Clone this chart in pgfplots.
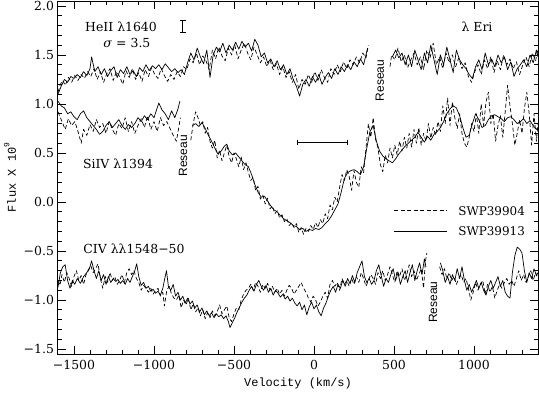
\documentclass[border=0pt]{standalone}
\usepackage{pgfplots}
\pgfplotsset{compat=1.18}
\usepackage{fontspec}
\setmainfont{DejaVu Serif}
\newfontfamily\monofont{Liberation Mono}
\newfontfamily\sansfont{Liberation Sans}
\begin{document}
\begin{tikzpicture}
\begin{axis}[
  scale only axis, width=480bp, height=353bp,
  xmin=-1600, xmax=1400, ymin=-1.55, ymax=2.05,
  xtick={-1500,-1000,-500,0,500,1000},
  xticklabels={−1500,−1000,−500,0,500,1000},
  minor xtick={-1400,-1300,-1200,-1100,-900,-800,-700,-600,-400,-300,-200,-100,100,200,300,400,600,700,800,900,1100,1200,1300},
  ytick={-1.5,-1,-0.5,0,0.5,1,1.5,2},
  yticklabels={−1.5,−1.0,−0.5,0.0,0.5,1.0,1.5,2.0},
  minor ytick={-1.4,-1.3,-1.2,-1.1,-0.9,-0.8,-0.7,-0.6,-0.4,-0.3,-0.2,-0.1,0.1,0.2,0.3,0.4,0.6,0.7,0.8,0.9,1.1,1.2,1.3,1.4,1.6,1.7,1.8,1.9},
  tick pos=both, tick align=inside,
  major tick length=8bp, minor tick length=4bp,
  every tick/.style={black, line width=0.8bp},
  axis line style={line width=1bp},
  ticklabel style={font=\fontsize{12.5}{13}\selectfont},
  xticklabel style={yshift=-3bp},
  yticklabel style={xshift=-0.5bp},
  xlabel={{\monofont Velocity (km/s)}},
  ylabel={{\monofont Flux X 10\raisebox{0.55em}{\fontsize{8}{8}\selectfont 9}}},
  xlabel style={at={(axis description cs:0.5,-0.082)}, anchor=center, font=\fontsize{12}{12}\selectfont},
  ylabel style={at={(axis description cs:-0.1,0.5)}, anchor=center, font=\fontsize{12}{12}\selectfont},
  every axis plot/.append style={black, line width=0.7bp, line join=round},
  sol/.style={solid},
  das/.style={dash pattern=on 4bp off 2.5bp},
]
% ---------- He II solid ----------
\addplot[sol] coordinates {(-1600,1.10) (-1580,1.18) (-1560,1.25) (-1540,1.22) (-1520,1.28) (-1500,1.26) (-1480,1.30) (-1460,1.27) (-1440,1.33) (-1420,1.29) (-1400,1.36) (-1390,1.48) (-1370,1.33) (-1350,1.38) (-1330,1.30) (-1310,1.36) (-1290,1.28) (-1270,1.34) (-1250,1.38) (-1230,1.27) (-1210,1.35) (-1190,1.31) (-1170,1.38) (-1150,1.30) (-1130,1.34) (-1110,1.28) (-1090,1.37) (-1070,1.33) (-1050,1.40) (-1030,1.34) (-1010,1.39) (-990,1.36) (-970,1.40) (-950,1.35) (-930,1.41) (-910,1.37) (-890,1.33) (-870,1.36) (-850,1.32) (-830,1.35) (-810,1.30) (-790,1.42) (-770,1.52) (-750,1.45) (-730,1.57) (-710,1.48) (-690,1.41) (-670,1.55) (-650,1.27) (-630,1.50) (-610,1.58) (-590,1.53) (-570,1.62) (-550,1.52) (-530,1.60) (-510,1.55) (-490,1.63) (-470,1.56) (-450,1.64) (-430,1.58) (-410,1.62) (-390,1.54) (-370,1.66) (-350,1.60) (-330,1.48) (-310,1.52) (-290,1.42) (-270,1.46) (-250,1.38) (-230,1.44) (-210,1.35) (-190,1.40) (-170,1.30) (-150,1.36) (-130,1.25) (-110,1.18) (-90,1.08) (-70,1.20) (-50,1.25) (-30,1.18) (-10,1.28) (10,1.22) (30,1.30) (50,1.20) (70,1.27) (90,1.32) (110,1.26) (130,1.36) (150,1.30) (170,1.38) (190,1.33) (210,1.40) (230,1.35) (250,1.43) (270,1.38) (290,1.46) (310,1.40) (335,1.57)};
\addplot[sol] coordinates {(490,1.48) (510,1.55) (530,1.47) (550,1.52) (570,1.40) (590,1.50) (610,1.38) (630,1.55) (650,1.45) (670,1.35) (690,1.52) (710,1.42) (730,1.60) (750,1.45) (770,1.30) (790,1.50) (810,1.40) (830,1.58) (850,1.45) (870,1.32) (890,1.55) (910,1.45) (930,1.40) (950,1.36) (970,1.30) (990,1.26) (1010,1.38) (1030,1.45) (1050,1.35) (1070,1.52) (1090,1.40) (1110,1.46) (1130,1.38) (1150,1.50) (1170,1.42) (1190,1.48) (1210,1.35) (1230,1.43) (1250,1.28) (1270,1.36) (1290,1.40) (1310,1.45) (1330,1.38) (1350,1.50) (1370,1.42) (1390,1.55) (1400,1.48)};
% ---------- He II dashed ----------
\addplot[das] coordinates {(-1600,1.12) (-1585,1.20) (-1570,1.24) (-1555,1.19) (-1535,1.27) (-1515,1.22) (-1495,1.29) (-1475,1.24) (-1455,1.30) (-1435,1.26) (-1415,1.33) (-1395,1.28) (-1375,1.36) (-1355,1.25) (-1335,1.33) (-1315,1.22) (-1295,1.31) (-1275,1.36) (-1255,1.24) (-1235,1.33) (-1215,1.28) (-1195,1.20) (-1175,1.34) (-1155,1.27) (-1135,1.36) (-1115,1.25) (-1095,1.32) (-1075,1.23) (-1055,1.35) (-1035,1.28) (-1015,1.37) (-995,1.30) (-975,1.26) (-955,1.36) (-935,1.29) (-915,1.23) (-895,1.30) (-875,1.25) (-855,1.33) (-835,1.28) (-815,1.38) (-795,1.35) (-775,1.46) (-755,1.42) (-735,1.52) (-715,1.40) (-695,1.49) (-675,1.44) (-655,1.35) (-635,1.55) (-615,1.46) (-595,1.58) (-575,1.49) (-555,1.44) (-535,1.57) (-515,1.50) (-495,1.60) (-475,1.46) (-455,1.55) (-435,1.62) (-415,1.52) (-395,1.45) (-375,1.58) (-355,1.50) (-335,1.42) (-315,1.48) (-295,1.38) (-275,1.45) (-255,1.35) (-235,1.41) (-215,1.30) (-195,1.38) (-175,1.27) (-155,1.33) (-135,1.22) (-115,1.30) (-95,1.15) (-75,1.25) (-55,1.20) (-35,1.30) (-15,1.22) (5,1.33) (25,1.24) (45,1.35) (65,1.27) (85,1.22) (105,1.36) (125,1.30) (145,1.40) (165,1.33) (185,1.43) (205,1.36) (225,1.45) (245,1.40) (265,1.48) (285,1.42) (305,1.52) (325,1.47) (340,1.60)};
\addplot[das] coordinates {(475,1.38) (485,1.50) (505,1.45) (525,1.57) (545,1.43) (565,1.50) (585,1.37) (605,1.45) (625,1.52) (645,1.40) (665,1.48) (685,1.35) (705,1.55) (725,1.47) (745,1.62) (765,1.40) (785,1.48) (805,1.36) (825,1.52) (845,1.42) (865,1.50) (885,1.38) (905,1.47) (925,1.36) (945,1.42) (965,1.28) (985,1.22) (1005,1.33) (1025,1.40) (1045,1.30) (1065,1.45) (1085,1.36) (1105,1.48) (1125,1.32) (1145,1.44) (1165,1.35) (1185,1.50) (1205,1.40) (1225,1.46) (1245,1.36) (1265,1.43) (1285,1.30) (1305,1.40) (1325,1.48) (1345,1.38) (1365,1.52) (1385,1.44) (1400,1.56)};
% ---------- Si IV solid ----------
\addplot[sol] coordinates {(-1600,1.03) (-1580,0.98) (-1560,0.96) (-1540,0.90) (-1520,0.92) (-1500,0.87) (-1480,0.84) (-1460,0.90) (-1440,0.93) (-1420,0.86) (-1400,0.82) (-1380,0.78) (-1360,0.74) (-1340,0.69) (-1320,0.72) (-1300,0.78) (-1280,0.82) (-1260,0.76) (-1240,0.80) (-1220,0.84) (-1200,0.78) (-1180,0.74) (-1160,0.79) (-1140,0.76) (-1120,0.80) (-1100,0.86) (-1080,0.82) (-1060,0.88) (-1040,0.84) (-1020,0.90) (-1000,0.86) (-980,0.96) (-970,1.01) (-950,0.94) (-930,0.90) (-910,0.84) (-890,0.93) (-870,0.86) (-850,0.95) (-838,1.03)};
\addplot[sol] coordinates {(-760,0.78) (-740,0.80) (-720,0.77) (-700,0.81) (-680,0.75) (-660,0.68) (-640,0.62) (-620,0.55) (-600,0.49) (-580,0.52) (-560,0.57) (-545,0.59) (-530,0.52) (-510,0.48) (-490,0.50) (-470,0.46) (-450,0.42) (-430,0.38) (-410,0.36) (-390,0.28) (-370,0.18) (-350,0.10) (-330,0.05) (-310,0.06) (-290,0.01) (-270,-0.04) (-250,-0.08) (-230,-0.10) (-210,-0.14) (-190,-0.17) (-170,-0.19) (-150,-0.21) (-130,-0.24) (-110,-0.25) (-90,-0.28) (-70,-0.27) (-50,-0.30) (-30,-0.28) (-10,-0.29) (10,-0.27) (30,-0.28) (50,-0.26) (70,-0.22) (90,-0.19) (110,-0.14) (130,-0.08) (150,-0.02) (170,0.10) (190,0.24) (210,0.30) (230,0.32) (250,0.33) (270,0.31) (290,0.28) (310,0.36) (330,0.55) (350,0.72) (370,0.78) (390,0.62) (410,0.52) (430,0.47) (450,0.44) (470,0.42) (490,0.40) (510,0.44) (530,0.49) (550,0.53) (570,0.57) (590,0.60) (610,0.63) (630,0.66) (650,0.71) (670,0.66) (690,0.61) (710,0.67) (730,0.63) (750,0.69) (770,0.72) (790,0.76) (810,0.82) (830,0.90) (850,0.95) (870,0.98) (890,0.96) (910,0.88) (930,0.76) (950,0.66) (970,0.68) (990,0.80) (1010,0.90) (1030,0.84) (1050,0.76) (1070,0.78) (1090,0.84) (1110,0.88) (1130,0.89) (1150,0.87) (1170,0.85) (1190,0.82) (1210,0.86) (1230,0.87) (1250,0.84) (1270,0.80) (1290,0.82) (1310,0.85) (1330,0.80) (1350,0.83) (1370,0.78) (1390,0.74) (1400,0.76)};
% ---------- Si IV dashed ----------
\addplot[das] coordinates {(-1600,0.92) (-1585,0.86) (-1570,0.80) (-1555,0.74) (-1535,0.85) (-1515,0.78) (-1495,0.82) (-1475,0.72) (-1455,0.60) (-1440,0.74) (-1420,0.68) (-1400,0.79) (-1380,0.72) (-1360,0.84) (-1340,0.76) (-1320,0.80) (-1300,0.70) (-1280,0.82) (-1260,0.74) (-1240,0.68) (-1220,0.80) (-1200,0.75) (-1180,0.86) (-1160,0.72) (-1140,0.82) (-1120,0.70) (-1100,0.78) (-1080,0.85) (-1060,0.76) (-1040,0.88) (-1020,0.74) (-1000,0.82) (-980,0.72) (-960,0.86) (-940,0.78) (-920,0.82) (-900,0.75) (-880,0.68) (-860,0.62) (-845,0.76) (-835,0.86)};
\addplot[das] coordinates {(-770,0.63) (-755,0.80) (-740,0.92) (-725,0.86) (-710,0.78) (-695,0.82) (-680,0.70) (-665,0.76) (-650,0.62) (-635,0.55) (-620,0.63) (-605,0.45) (-590,0.53) (-575,0.42) (-560,0.50) (-545,0.58) (-530,0.46) (-515,0.40) (-500,0.50) (-485,0.44) (-470,0.36) (-455,0.46) (-440,0.33) (-425,0.40) (-410,0.30) (-395,0.22) (-380,0.25) (-365,0.12) (-350,0.16) (-335,0.03) (-320,0.07) (-305,-0.02) (-290,0.04) (-275,-0.07) (-260,-0.04) (-245,-0.12) (-230,-0.09) (-215,-0.16) (-200,-0.13) (-185,-0.20) (-170,-0.17) (-155,-0.24) (-140,-0.21) (-125,-0.26) (-110,-0.22) (-95,-0.31) (-80,-0.26) (-65,-0.33) (-50,-0.27) (-35,-0.30) (-20,-0.24) (-5,-0.28) (10,-0.21) (25,-0.26) (40,-0.18) (55,-0.22) (70,-0.12) (85,-0.17) (100,-0.03) (115,-0.08) (130,0.05) (145,0.00) (160,0.15) (175,0.28) (190,0.22) (205,0.33) (220,0.26) (235,0.12) (250,0.32) (265,0.20) (280,0.15) (295,0.36) (310,0.30) (325,0.55) (340,0.80) (355,0.66) (370,0.86) (385,0.64) (400,0.55) (415,0.38) (430,0.31) (445,0.48) (460,0.40) (475,0.55) (490,0.45) (505,0.58) (520,0.48) (535,0.62) (550,0.52) (565,0.66) (580,0.55) (595,0.70) (610,0.56) (625,0.74) (640,0.60) (655,0.76) (670,0.58) (685,0.70) (700,0.62) (715,0.80) (730,0.65) (745,0.76) (760,0.68) (775,0.82) (790,0.72) (805,0.98) (820,0.80) (835,1.06) (850,0.78) (865,1.02) (880,0.86) (895,0.75) (910,0.90) (925,0.70) (940,0.60) (955,0.56) (970,0.66) (985,0.80) (1000,0.72) (1015,0.90) (1030,0.70) (1045,1.00) (1060,0.78) (1075,1.02) (1090,1.12) (1105,0.80) (1120,0.90) (1135,0.62) (1150,0.78) (1165,0.88) (1180,0.66) (1195,0.92) (1210,1.19) (1225,0.98) (1240,0.80) (1255,0.58) (1270,0.70) (1285,0.84) (1300,0.70) (1315,0.95) (1330,1.12) (1345,0.90) (1360,0.58) (1375,0.90) (1390,0.62) (1400,0.80)};
% ---------- C IV solid ----------
\addplot[sol] coordinates {(-1600,-0.87) (-1585,-0.72) (-1570,-0.66) (-1555,-0.64) (-1540,-0.80) (-1525,-0.88) (-1510,-0.80) (-1495,-0.84) (-1480,-0.78) (-1460,-0.83) (-1440,-0.76) (-1420,-0.72) (-1400,-0.66) (-1390,-0.60) (-1375,-0.70) (-1360,-0.78) (-1345,-0.70) (-1330,-0.80) (-1315,-0.74) (-1300,-0.84) (-1285,-0.76) (-1270,-0.82) (-1255,-0.78) (-1240,-0.81) (-1225,-0.79) (-1210,-0.83) (-1195,-0.80) (-1180,-0.84) (-1165,-0.78) (-1150,-0.82) (-1135,-0.76) (-1120,-0.70) (-1108,-0.63) (-1095,-0.76) (-1080,-0.85) (-1065,-0.82) (-1050,-0.88) (-1035,-0.86) (-1020,-0.91) (-1005,-0.89) (-990,-0.93) (-975,-0.91) (-960,-0.95) (-945,-0.88) (-930,-0.76) (-922,-0.70) (-910,-0.86) (-895,-0.90) (-880,-0.84) (-865,-0.96) (-850,-0.92) (-835,-1.00) (-820,-0.96) (-805,-1.03) (-790,-0.98) (-775,-1.04) (-760,-1.01) (-745,-1.08) (-730,-1.05) (-715,-1.12) (-700,-1.08) (-685,-1.15) (-670,-1.11) (-655,-1.16) (-640,-1.13) (-625,-1.18) (-610,-1.14) (-595,-1.17) (-580,-1.15) (-565,-1.19) (-550,-1.16) (-535,-1.22) (-525,-1.28) (-510,-1.23) (-495,-1.18) (-480,-1.12) (-465,-1.07) (-450,-1.02) (-435,-0.98) (-420,-0.95) (-405,-0.90) (-390,-0.86) (-375,-0.91) (-360,-0.84) (-345,-0.80) (-330,-0.86) (-315,-0.90) (-300,-0.85) (-285,-0.92) (-270,-0.88) (-255,-0.95) (-240,-0.90) (-225,-0.93) (-210,-0.97) (-195,-0.94) (-180,-0.99) (-165,-0.96) (-150,-1.01) (-135,-0.98) (-120,-1.03) (-105,-1.06) (-90,-1.02) (-75,-1.10) (-60,-1.05) (-45,-1.15) (-30,-1.07) (-15,-1.02) (0,-1.09) (15,-1.05) (30,-1.12) (45,-1.16) (60,-1.08) (75,-1.03) (90,-0.96) (105,-0.90) (120,-0.86) (135,-0.92) (150,-0.84) (165,-0.88) (180,-0.80) (195,-0.86) (210,-0.78) (225,-0.83) (240,-0.75) (255,-0.82) (270,-0.72) (285,-0.66) (300,-0.60) (315,-0.76) (330,-0.82) (345,-0.78) (360,-0.84) (375,-0.80) (390,-0.70) (405,-0.64) (420,-0.75) (435,-0.86) (450,-0.78) (465,-0.82) (480,-0.74) (495,-0.68) (510,-0.80) (525,-0.72) (540,-0.84) (555,-0.76) (570,-0.70) (585,-0.82) (600,-0.72) (615,-0.64) (630,-0.80) (645,-0.70) (660,-0.62) (675,-0.74) (690,-0.58) (700,-0.66)};
\addplot[sol] coordinates {(790,-0.62) (805,-0.70) (820,-0.82) (835,-0.76) (850,-0.84) (865,-0.74) (880,-0.80) (895,-0.68) (910,-0.78) (925,-0.66) (940,-0.80) (955,-0.90) (970,-0.84) (985,-0.92) (1000,-0.86) (1015,-0.80) (1030,-0.88) (1045,-0.82) (1060,-0.90) (1075,-0.95) (1090,-0.86) (1105,-0.80) (1120,-0.88) (1135,-0.82) (1150,-0.76) (1165,-0.86) (1180,-0.80) (1195,-0.92) (1210,-0.96) (1225,-0.98) (1240,-0.72) (1255,-0.55) (1270,-0.46) (1285,-0.48) (1300,-0.52) (1315,-0.70) (1330,-0.82) (1345,-0.72) (1360,-0.78) (1375,-0.68) (1390,-0.75) (1400,-0.72)};
% ---------- C IV dashed ----------
\addplot[das] coordinates {(-1600,-0.80) (-1588,-0.85) (-1575,-0.74) (-1560,-0.82) (-1545,-0.72) (-1530,-0.78) (-1515,-0.86) (-1500,-0.76) (-1485,-0.70) (-1470,-0.80) (-1455,-0.75) (-1440,-0.84) (-1425,-0.74) (-1410,-0.70) (-1395,-0.65) (-1380,-0.72) (-1365,-0.68) (-1350,-0.63) (-1335,-0.78) (-1320,-0.88) (-1305,-0.76) (-1290,-0.82) (-1275,-0.72) (-1260,-0.80) (-1245,-0.76) (-1230,-0.84) (-1215,-0.80) (-1200,-0.74) (-1185,-0.82) (-1170,-0.72) (-1155,-0.68) (-1140,-0.74) (-1125,-0.70) (-1110,-0.78) (-1095,-0.82) (-1080,-0.90) (-1065,-0.85) (-1050,-0.88) (-1035,-0.92) (-1020,-0.88) (-1005,-0.94) (-990,-0.90) (-975,-0.88) (-960,-0.96) (-945,-0.92) (-935,-1.06) (-920,-0.90) (-905,-0.86) (-890,-0.94) (-875,-0.98) (-860,-1.00) (-845,-0.95) (-830,-1.08) (-815,-1.00) (-800,-1.05) (-785,-0.98) (-770,-1.10) (-755,-1.04) (-740,-1.12) (-725,-1.08) (-710,-1.16) (-695,-1.10) (-680,-1.19) (-665,-1.13) (-650,-1.18) (-635,-1.11) (-620,-1.16) (-605,-1.12) (-590,-1.05) (-575,-1.14) (-560,-1.10) (-545,-1.06) (-530,-1.18) (-515,-1.22) (-500,-1.14) (-485,-1.08) (-470,-1.10) (-455,-1.00) (-440,-0.94) (-425,-0.90) (-410,-0.88) (-395,-0.84) (-380,-0.90) (-365,-0.82) (-350,-0.86) (-335,-0.92) (-320,-0.84) (-305,-0.88) (-290,-0.83) (-275,-0.90) (-260,-0.86) (-245,-0.92) (-230,-0.88) (-215,-0.94) (-200,-0.90) (-185,-0.96) (-170,-0.90) (-155,-0.85) (-140,-0.88) (-125,-0.94) (-110,-0.90) (-95,-0.86) (-80,-0.82) (-65,-0.88) (-50,-0.92) (-35,-0.98) (-20,-1.02) (-5,-0.96) (10,-1.00) (25,-1.06) (40,-1.02) (55,-0.96) (70,-0.92) (85,-0.98) (100,-0.84) (115,-0.80) (130,-0.86) (145,-0.82) (160,-0.90) (175,-0.78) (190,-0.84) (205,-0.80) (220,-0.86) (235,-0.78) (250,-0.84) (265,-0.76) (280,-0.82) (295,-0.72) (310,-0.78) (325,-0.86) (340,-0.80) (355,-0.74) (370,-0.78) (385,-0.84) (400,-0.72) (415,-0.78) (430,-0.70) (445,-0.80) (460,-0.74) (475,-0.66) (490,-0.74) (505,-0.82) (520,-0.70) (535,-0.76) (550,-0.68) (565,-0.80) (580,-0.74) (595,-0.64) (610,-0.76) (625,-0.70) (640,-0.80) (655,-0.74) (670,-0.68) (685,-0.88) (695,-0.62) (705,-0.52)};
\addplot[das] coordinates {(785,-0.66) (800,-0.74) (815,-0.68) (830,-0.78) (845,-0.72) (860,-0.80) (875,-0.76) (890,-0.84) (905,-0.78) (920,-0.74) (935,-0.82) (950,-0.78) (965,-0.88) (980,-1.00) (995,-0.92) (1010,-0.82) (1025,-0.90) (1040,-0.84) (1055,-0.80) (1070,-0.94) (1085,-0.84) (1100,-0.92) (1115,-0.86) (1130,-0.98) (1145,-0.90) (1160,-0.84) (1175,-0.88) (1190,-0.82) (1205,-0.78) (1220,-0.84) (1235,-0.80) (1250,-0.86) (1265,-0.78) (1280,-0.70) (1295,-0.80) (1310,-0.74) (1325,-0.82) (1340,-0.76) (1355,-0.70) (1370,-0.80) (1385,-0.72) (1400,-0.78)};
% ---------- error bars ----------
\addplot[sol, line width=0.8bp, mark=-, mark size=3bp] coordinates {(-820,1.73) (-820,1.85)};
\addplot[sol, line width=0.8bp, mark=|, mark size=2.5bp] coordinates {(-103,0.61) (210,0.61)};
% ---------- legend ----------
\addplot[das, line width=0.8bp] coordinates {(500,-0.09) (831,-0.09)};
\addplot[sol, line width=0.8bp] coordinates {(500,-0.30) (831,-0.30)};
\node[anchor=west, font=\fontsize{12}{12}\selectfont] at (axis cs:880,-0.09) {SWP39904};
\node[anchor=west, font=\fontsize{12}{12}\selectfont] at (axis cs:880,-0.30) {SWP39913};
% ---------- annotations ----------
\node[font=\fontsize{12.5}{13}\selectfont] at (axis cs:-1206,1.785) {HeII λ1640};
\node[font=\fontsize{12.5}{13}\selectfont] at (axis cs:-1169,1.62) {\textit{σ} = 3.5};
\node[font=\fontsize{12.5}{13}\selectfont] at (axis cs:1019,1.785) {λ Eri};
\node[font=\fontsize{12.5}{13}\selectfont] at (axis cs:-1225,0.387) {SiIV λ1394};
\node[font=\fontsize{12.5}{13}\selectfont] at (axis cs:-1125,-0.48) {CIV λλ1548−50};
\node[rotate=90, font=\sansfont\fontsize{12}{12}\selectfont] at (axis cs:-819,0.47) {Reseau};
\node[rotate=90, font=\sansfont\fontsize{12}{12}\selectfont] at (axis cs:412,1.24) {Reseau};
\node[rotate=90, font=\sansfont\fontsize{12}{12}\selectfont] at (axis cs:744,-1.02) {Reseau};
\end{axis}
\pgfresetboundingbox
\path ([shift={(-58bp,-39bp)}]current axis.south west) rectangle ([shift={(1bp,1bp)}]current axis.north east);
\end{tikzpicture}
\end{document}
